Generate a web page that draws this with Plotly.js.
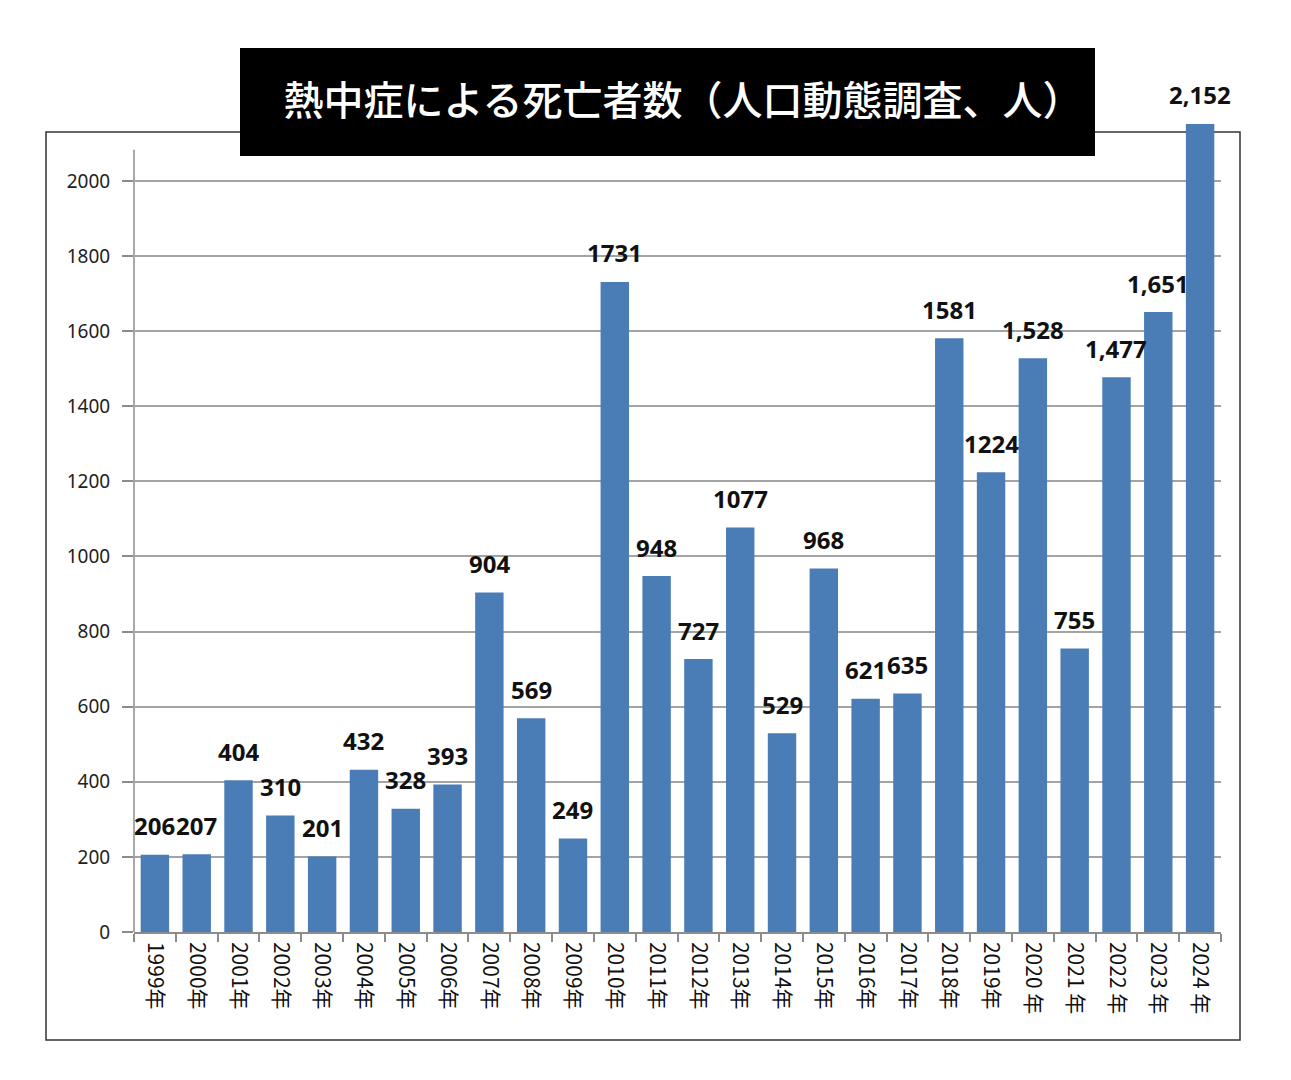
<!DOCTYPE html>
<html>
<head>
<meta charset="utf-8">
<script src="https://cdn.plot.ly/plotly-3.0.1.min.js"></script>
<style>
  html, body { margin: 0; padding: 0; background: #ffffff; }
  #chart { width: 1291px; height: 1080px; }
</style>
</head>
<body>
<div id="chart"></div>
<script>
// Heat-stroke deaths per year (vital statistics)
const years = [
  '1999年', '2000年', '2001年', '2002年', '2003年', '2004年', '2005年',
  '2006年', '2007年', '2008年', '2009年', '2010年', '2011年', '2012年',
  '2013年', '2014年', '2015年', '2016年', '2017年', '2018年', '2019年',
  '2020 年', '2021 年', '2022 年', '2023 年', '2024 年'
];
const deaths = [
  206, 207, 404, 310, 201, 432, 328, 393, 904, 569, 249, 1731, 948, 727,
  1077, 529, 968, 621, 635, 1581, 1224, 1528, 755, 1477, 1651, 2152
];
const valueLabels = [
  '206', '207', '404', '310', '201', '432', '328', '393', '904', '569', '249',
  '1731', '948', '727', '1077', '529', '968', '621', '635', '1581', '1224',
  '1,528', '755', '1,477', '1,651', '2,152'
];
const yTicks = [0, 200, 400, 600, 800, 1000, 1200, 1400, 1600, 1800, 2000];
const chartTitle = '熱中症による死亡者数（人口動態調査、人）';

// page geometry in pixels; the value scale is 0 at y=932 and 2000 at y=181
const W = 1291, H = 1080;
const plotLeft = 134, plotRight = 1221, plotBottom = 932;
const pxPerUnit = (932 - 181) / 2000;
const yMax = 2165;                       // room for the tallest bar
const plotTop = plotBottom - yMax * pxPerUnit;
const axisLineTop = 2083;                // visible extent of the value axis line
const pw = plotRight - plotLeft, ph = plotBottom - plotTop;
const px = v => (v - plotLeft) / pw;      // pixel x -> paper x
const py = v => (plotBottom - v) / ph;    // pixel y -> paper y

const barColor = '#4a7db6';
const gridColor = '#a3a3a3';
const axisColor = '#8c8c8c';
const baseFont = "'Noto Sans', 'Noto Sans CJK JP', sans-serif";

const bars = {
  type: 'bar',
  x: years,
  y: deaths,
  marker: { color: barColor, line: { width: 0 } },
  hoverinfo: 'x+y'
};

const valueNotes = years.map((yr, i) => ({
  x: yr,
  y: deaths[i],
  xref: 'x',
  yref: 'y',
  text: '<b>' + valueLabels[i] + '</b>',
  showarrow: false,
  xanchor: 'center',
  yanchor: 'middle',
  yshift: 29,
  font: { family: baseFont, size: 24, color: '#111111' }
}));

const layout = {
  width: W,
  height: H,
  paper_bgcolor: '#ffffff',
  plot_bgcolor: 'rgba(0,0,0,0)',
  margin: { l: plotLeft, r: W - plotRight, t: plotTop, b: H - plotBottom, pad: 0 },
  showlegend: false,
  bargap: 0.32,
  font: { family: baseFont, size: 18, color: '#222222' },
  title: {
    text: chartTitle,
    xref: 'container',
    yref: 'container',
    x: 683 / W,
    y: 1 - 101 / H,
    xanchor: 'center',
    yanchor: 'middle',
    font: { family: "'Noto Sans CJK JP', sans-serif", size: 40, weight: 500, color: '#ffffff' }
  },
  xaxis: {
    type: 'category',
    range: [-0.5, years.length - 0.5],
    tickangle: 90,
    showline: true,
    linecolor: axisColor,
    linewidth: 1.5,
    ticks: 'outside',
    tickson: 'boundaries',
    ticklen: 8,
    tickwidth: 1.5,
    tickcolor: axisColor,
    ticklabelstandoff: 4,
    showgrid: false,
    automargin: false,
    tickfont: { family: "'Noto Sans CJK JP', 'Noto Sans', sans-serif", size: 21, color: '#111111' }
  },
  yaxis: {
    range: [0, yMax],
    tickvals: yTicks,
    ticktext: yTicks.map(String),
    showline: false,
    ticks: 'outside',
    ticklen: 11,
    tickwidth: 1.5,
    tickcolor: axisColor,
    ticklabelstandoff: 8,
    showgrid: true,
    gridcolor: gridColor,
    gridwidth: 1.5,
    zeroline: false,
    automargin: false,
    tickfont: { family: baseFont, size: 19, color: '#222222' }
  },
  shapes: [
    // outer frame around the chart
    {
      type: 'rect', xref: 'paper', yref: 'paper', layer: 'below',
      x0: px(46), x1: px(1240), y0: py(1040), y1: py(132),
      line: { color: '#333333', width: 1.5 }, fillcolor: 'rgba(0,0,0,0)'
    },
    // value axis line
    {
      type: 'line', xref: 'paper', yref: 'y', layer: 'below',
      x0: 0, x1: 0, y0: 0, y1: axisLineTop,
      line: { color: axisColor, width: 1.5 }
    },
    // black banner behind the title
    {
      type: 'rect', xref: 'paper', yref: 'paper', layer: 'above',
      x0: px(240), x1: px(1095), y0: py(156), y1: py(48),
      line: { width: 0 }, fillcolor: '#000000'
    }
  ],
  annotations: valueNotes
};

Plotly.newPlot('chart', [bars], layout, { displayModeBar: false, responsive: false });
</script>
</body>
</html>
